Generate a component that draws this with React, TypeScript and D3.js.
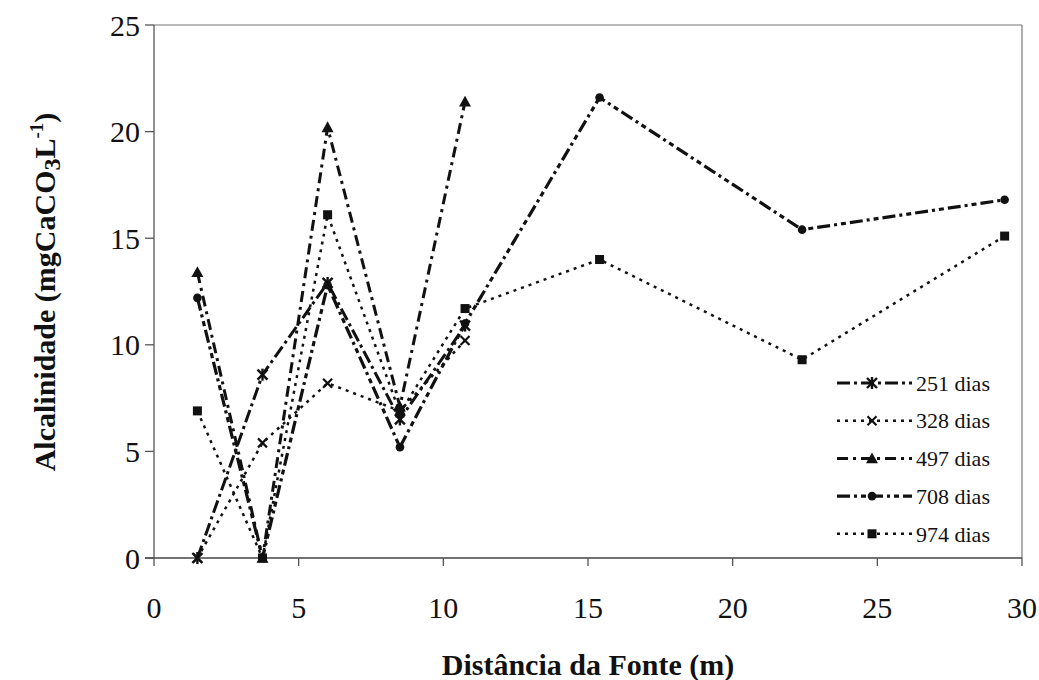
import React from "react";
import * as d3 from "d3";

const distances = [1.5, 3.75, 6, 8.5, 10.75, 15.4, 22.4, 29.4];
const seriesNames = ["251 dias", "328 dias", "497 dias", "708 dias", "974 dias"];
const s251 = [0, 8.6, 12.9, 6.5, 10.9];
const s328 = [0, 5.4, 8.2, 6.9, 10.2];
const s497 = [13.4, 0, 20.2, 7.1, 21.4];
const s708 = [12.2, 0, 12.8, 5.2, 11.0, 21.6, 15.4, 16.8];
const s974 = [6.9, 0, 16.1, 6.8, 11.7, 14.0, 9.3, 15.1];
const xTicks = [0, 5, 10, 15, 20, 25, 30];
const yTicks = [0, 5, 10, 15, 20, 25];

const seriesValues = [s251, s328, s497, s708, s974];
const markers = ["asterisk", "cross", "triangle", "circle", "square"];
const dashes = ["13,4,3,4", "3,5", "11,5,3,5", "13,4,3,4,5,4", "3,5"];
const widths = [3, 2.5, 3, 3.2, 2.5];

const W = 1039, H = 680;
const M = { left: 154, right: 1022, top: 25, bottom: 558 };

function Marker({ type, x, y }: { type: string; x: number; y: number }) {
  const c = "#111";
  if (type === "asterisk") {
    const r = 5;
    return (
      <g stroke={c} strokeWidth={2.4}>
        <line x1={x - r} y1={y - r} x2={x + r} y2={y + r} />
        <line x1={x - r} y1={y + r} x2={x + r} y2={y - r} />
        <line x1={x} y1={y - r - 1} x2={x} y2={y + r + 1} />
      </g>
    );
  }
  if (type === "cross") {
    const r = 4.5;
    return (
      <g stroke={c} strokeWidth={2.2}>
        <line x1={x - r} y1={y - r} x2={x + r} y2={y + r} />
        <line x1={x - r} y1={y + r} x2={x + r} y2={y - r} />
      </g>
    );
  }
  if (type === "triangle") {
    const r = 6;
    return <path d={`M${x},${y - r}L${x + r},${y + r * 0.8}L${x - r},${y + r * 0.8}Z`} fill={c} />;
  }
  if (type === "circle") return <circle cx={x} cy={y} r={4.3} fill={c} />;
  return <rect x={x - 4.5} y={y - 4.5} width={9} height={9} fill={c} />;
}

export default function App() {
  const x = d3.scaleLinear().domain([0, 30]).range([M.left, M.right]);
  const y = d3.scaleLinear().domain([0, 25]).range([M.bottom, M.top]);
  const line = d3
    .line<number>()
    .x((_, i) => x(distances[i]))
    .y((d) => y(d));
  const font = "'Liberation Serif', 'Times New Roman', serif";
  const legendY = (i: number) => 383 + i * 37.7;

  return (
    <svg width={W} height={H} style={{ position: "absolute", left: 0, top: 0, background: "#fff" }}>
      <rect x={0} y={0} width={W} height={H} fill="#fff" />
      {/* frame */}
      <line x1={M.left} y1={M.top} x2={M.right} y2={M.top} stroke="#777" strokeWidth={1.2} />
      <line x1={M.right} y1={M.top} x2={M.right} y2={M.bottom} stroke="#777" strokeWidth={1.2} />
      <line x1={M.left} y1={M.top} x2={M.left} y2={M.bottom} stroke="#555" strokeWidth={1.3} />
      <line x1={M.left - 9} y1={M.bottom} x2={M.right} y2={M.bottom} stroke="#444" strokeWidth={1.4} />
      {yTicks.map((t) => (
        <g key={"y" + t}>
          <line x1={M.left - 9} x2={M.left} y1={y(t)} y2={y(t)} stroke="#555" strokeWidth={1.3} />
          <text x={M.left - 14} y={y(t)} dy="0.35em" textAnchor="end" fontFamily={font} fontSize={30} fill="#111">
            {t}
          </text>
        </g>
      ))}
      {xTicks.map((t) => (
        <g key={"x" + t}>
          <line x1={x(t)} x2={x(t)} y1={M.bottom} y2={M.bottom + 8} stroke="#555" strokeWidth={1.3} />
          <text x={x(t)} y={607} dy="0.35em" textAnchor="middle" fontFamily={font} fontSize={30} fill="#111">
            {t}
          </text>
        </g>
      ))}
      {/* series */}
      {seriesValues.map((vals, si) => (
        <g key={"s" + si}>
          <path
            d={line(vals) || ""}
            fill="none"
            stroke="#111"
            strokeWidth={widths[si]}
            strokeDasharray={dashes[si]}
          />
          {vals.map((v, i) => (
            <Marker key={i} type={markers[si]} x={x(distances[i])} y={y(v)} />
          ))}
        </g>
      ))}
      {/* legend */}
      {seriesNames.map((n, i) => (
        <g key={"l" + i}>
          <line
            x1={837}
            x2={912}
            y1={legendY(i)}
            y2={legendY(i)}
            stroke="#111"
            strokeWidth={widths[i]}
            strokeDasharray={dashes[i]}
          />
          <Marker type={markers[i]} x={872} y={legendY(i)} />
          <text x={916} y={legendY(i)} dy="0.35em" fontFamily={font} fontSize={22} fill="#111">
            {n}
          </text>
        </g>
      ))}
      {/* axis titles */}
      <text x={588} y={664} dy="0.35em" textAnchor="middle" fontFamily={font} fontWeight="bold" fontSize={30} fill="#111">
        Distância da Fonte (m)
      </text>
      <text
        transform={`translate(44,${292}) rotate(-90)`}
        textAnchor="middle"
        dy="0.35em"
        fontFamily={font}
        fontWeight="bold"
        fontSize={30}
        fill="#111"
      >
        Alcalinidade (mgCaCO
        <tspan fontSize={24} dy="5">3</tspan>
        <tspan dy="-5">L</tspan>
        <tspan fontSize={19} dy="-12">-1</tspan>
        <tspan dy="12">)</tspan>
      </text>
    </svg>
  );
}
